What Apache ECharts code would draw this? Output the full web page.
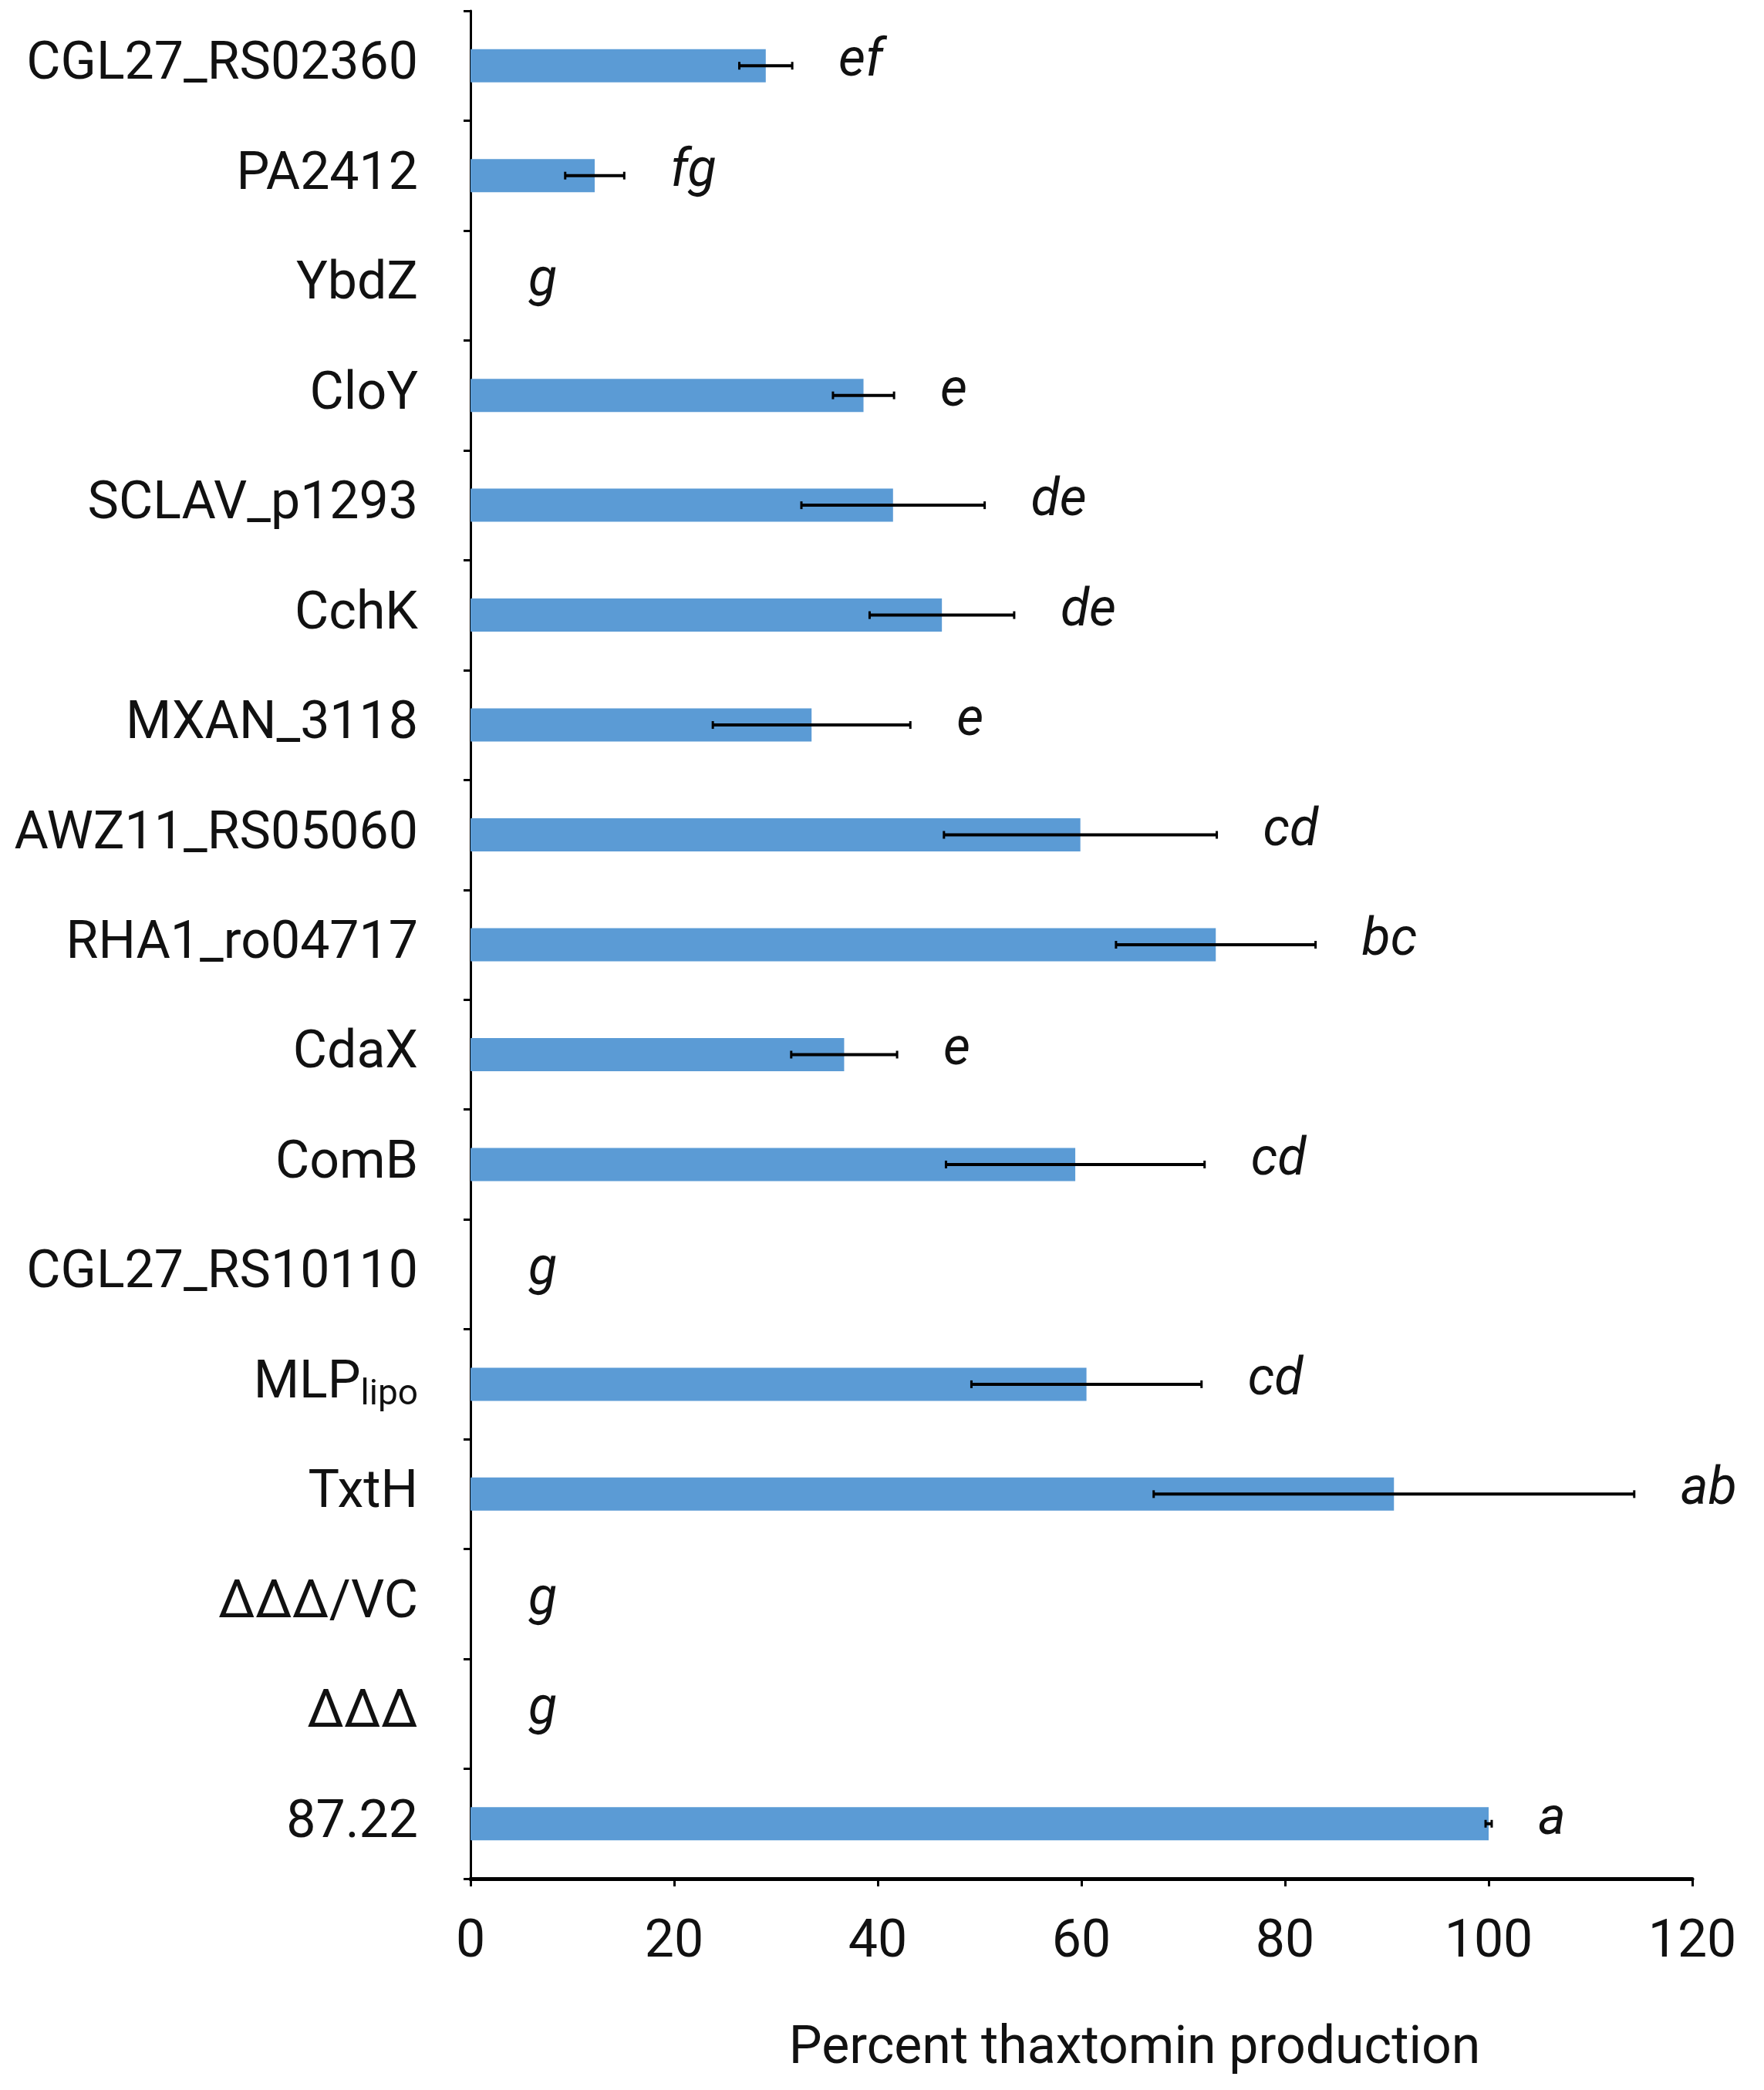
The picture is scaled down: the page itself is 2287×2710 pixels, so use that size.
<!DOCTYPE html>
<html>
<head>
<meta charset="utf-8">
<script src="https://cdn.jsdelivr.net/npm/echarts@6/dist/echarts.min.js"></script>
<style>
  html, body { margin: 0; padding: 0; background: #fff; }
  #chart { width: 2287px; height: 2710px; }
</style>
</head>
<body>
<div id="chart"></div>
<script>
// strains, top to bottom
var categories = ['CGL27_RS02360', 'PA2412', 'YbdZ', 'CloY', 'SCLAV_p1293', 'CchK', 'MXAN_3118',
    'AWZ11_RS05060', 'RHA1_ro04717', 'CdaX', 'ComB', 'CGL27_RS10110', 'MLPlipo', 'TxtH',
    'ΔΔΔ/VC', 'ΔΔΔ', '87.22'];
// percent thaxtomin production
var values = [29.0, 12.2, 0, 38.6, 41.5, 46.3, 33.5, 59.9, 73.2, 36.7, 59.4, 0, 60.5, 90.7, 0, 0, 100];
// error (+/-)
var errors = [2.6, 2.9, 0, 3.0, 9.0, 7.1, 9.7, 13.4, 9.8, 5.2, 12.7, 0, 11.3, 23.6, 0, 0, 0.3];
// significance letters
var letters = ['ef', 'fg', 'g', 'e', 'de', 'de', 'e', 'cd', 'bc', 'e', 'cd', 'g', 'cd', 'ab', 'g', 'g', 'a'];
var xTicks = [0, 20, 40, 60, 80, 100, 120];

var FONT = 'Roboto';
var myChart = echarts.init(document.getElementById('chart'));

var errData = [];
for (var i = 0; i < categories.length; i++) {
    errData.push([i, values[i], errors[i], letters[i]]);
}

var option = {
    backgroundColor: '#fff',
    animation: false,
    grid: { left: 610, right: 93, top: 14, bottom: 274 },
    xAxis: {
        type: 'value',
        min: xTicks[0],
        max: xTicks[xTicks.length - 1],
        interval: 20,
        name: 'Percent thaxtomin production',
        nameLocation: 'middle',
        nameGap: 188,
        nameTextStyle: { fontFamily: FONT, fontSize: 68, color: '#111', padding: [0, 0, 0, 138] },
        axisLine: { show: true, lineStyle: { color: '#000', width: 5 } },
        axisTick: { show: true, length: 10, lineStyle: { color: '#000', width: 3 } },
        axisLabel: { fontFamily: FONT, fontSize: 68, color: '#111', margin: 50 },
        splitLine: { show: false }
    },
    yAxis: {
        type: 'category',
        inverse: true,
        data: categories,
        axisLine: { show: true, lineStyle: { color: '#000', width: 3 } },
        axisTick: { show: true, length: 9, lineStyle: { color: '#000', width: 3 } },
        axisLabel: {
            fontFamily: FONT, fontSize: 68, color: '#111', margin: 68,
            formatter: function (v) {
                if (v === 'MLPlipo') return '{m|MLP}{s|lipo}';
                return v;
            },
            rich: {
                m: { fontFamily: FONT, fontSize: 68, color: '#111', lineHeight: 76, verticalAlign: 'middle' },
                s: { fontFamily: FONT, fontSize: 46, color: '#111', lineHeight: 46, verticalAlign: 'bottom' }
            }
        }
    },
    series: [
        {
            type: 'bar',
            data: values,
            barWidth: 43,
            itemStyle: { color: '#5b9bd5' },
            z: 2
        },
        {
            type: 'custom',
            data: errData,
            z: 5,
            renderItem: function (params, api) {
                var idx = api.value(0);
                var v = api.value(1);
                var e = api.value(2);
                var lo = api.coord([v - e, idx]);
                var hi = api.coord([v + e, idx]);
                var y = lo[1];
                var children = [];
                if (e > 0) {
                    var cap = 5;
                    children.push(
                        { type: 'line', shape: { x1: lo[0], y1: y, x2: hi[0], y2: y }, style: { stroke: '#000', lineWidth: 4 } },
                        { type: 'line', shape: { x1: lo[0], y1: y - cap, x2: lo[0], y2: y + cap }, style: { stroke: '#000', lineWidth: 3 } },
                        { type: 'line', shape: { x1: hi[0], y1: y - cap, x2: hi[0], y2: y + cap }, style: { stroke: '#000', lineWidth: 3 } }
                    );
                }
                var gap = v > 0 ? 60 : 75;
                children.push({
                    type: 'text',
                    style: {
                        x: hi[0] + gap, y: y - 4,
                        text: letters[idx],
                        fontFamily: FONT, fontStyle: 'italic', fontSize: 68,
                        fill: '#111', align: 'left', verticalAlign: 'middle'
                    }
                });
                return { type: 'group', children: children };
            }
        }
    ]
};

myChart.setOption(option);
window.addEventListener('resize', function () {
    myChart.resize();
});
</script>
</body>
</html>
